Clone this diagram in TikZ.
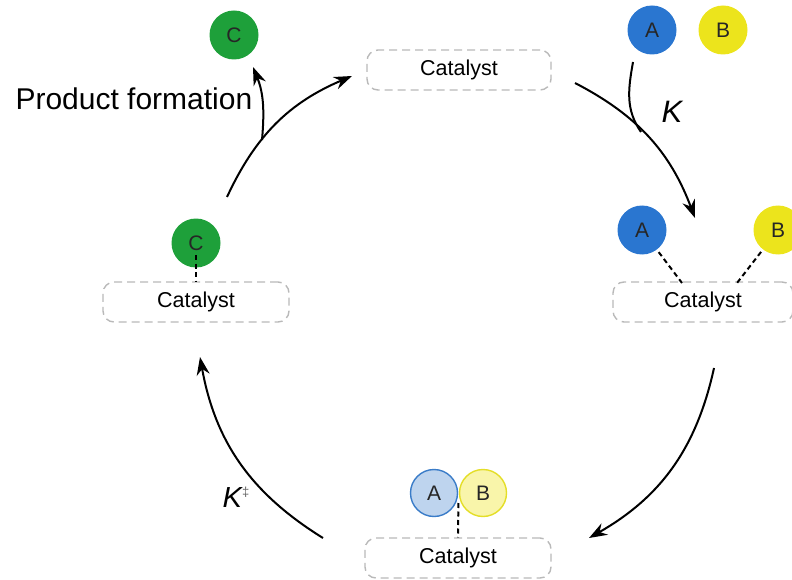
\documentclass[tikz,border=0pt]{standalone}
\usepackage{fontspec}
\setmainfont{Liberation Sans}
\usetikzlibrary{arrows.meta,calc}
\definecolor{molblue}{RGB}{42,118,208}
\definecolor{molyellow}{RGB}{236,228,28}
\definecolor{molgreen}{RGB}{30,160,58}
\definecolor{paleblue}{RGB}{190,212,238}
\definecolor{paleyellow}{RGB}{249,245,170}
\definecolor{edgeblue}{RGB}{58,124,200}
\definecolor{edgeyellow}{RGB}{228,222,40}
\tikzset{
  CatBox/.style = {draw=gray!55, dash pattern=on 8pt off 5pt, line width=1.4pt, rounded corners=11pt,
    minimum width=184pt, minimum height=40pt, inner sep=0pt, font=\fontsize{21.5}{21.5}\selectfont},
  Mol/.style = {circle, minimum size=49pt, inner sep=0pt, text=black!85, font=\fontsize{21}{21}\selectfont},
  MolA/.style = {Mol, fill=molblue},
  MolB/.style = {Mol, fill=molyellow},
  MolC/.style = {Mol, fill=molgreen},
  BoundA/.style = {Mol, fill=paleblue, draw=edgeblue, line width=1.4pt, minimum size=47pt},
  BoundB/.style = {Mol, fill=paleyellow, draw=edgeyellow, line width=1.4pt, minimum size=47pt},
  bond/.style = {line width=2pt, dash pattern=on 5pt off 3.5pt},
  cycarrow/.style = {-{Stealth[length=18pt,width=13pt]}, line width=2pt},
  rate/.style = {font=\fontsize{31}{31}\selectfont\itshape}
}
\begin{document}
\begin{tikzpicture}[x=1pt,y=1pt]
    \useasboundingbox (0,0) rectangle (792,-580);
    % catalyst states
    \node [CatBox] (tcat) at (459,-70) {Catalyst};
    \node [CatBox, minimum width=180pt] (rcat) at (703,-302) {Catalyst};
    \node [CatBox, minimum width=186pt] (bcat) at (458,-558) {Catalyst};
    \node [CatBox, minimum width=186pt] (lcat) at (196,-302) {Catalyst};
    % free reactants and product
    \node [MolA] (fA) at (652,-30) {A};
    \node [MolB] (fB) at (723,-30) {B};
    \node [MolC] (fC) at (234,-35) {C};
    % bound species
    \node [MolA] (rA) at (642,-230) {A};
    \node [MolB] (rB) at (778,-230) {B};
    \node [BoundA] (bA) at (434,-493) {A};
    \node [BoundB] (bB) at (483,-493) {B};
    \node [MolC] (lC) at (196,-243) {C};
    % bonds to catalyst
    \coordinate (rbondA) at (682,-283);
    \coordinate (rbondB) at (737,-283);
    \coordinate (abmid) at ($(bA)!0.5!(bB)$);
    \draw [bond, shorten <=3pt] (rA) -- (rbondA);
    \draw [bond, shorten <=3pt] (rB) -- (rbondB);
    \draw [bond, shorten <=10pt] (abmid) -- (bcat.north);
    \draw [bond, shorten <=12pt] (lC.center) -- (lcat.north);
    % catalytic cycle
    \coordinate (tlS) at (227,-197);  \coordinate (tlE) at (352,-76);
    \coordinate (trS) at (575,-83);   \coordinate (trE) at (695,-218);
    \coordinate (brS) at (714,-368);  \coordinate (brE) at (589,-538);
    \coordinate (blS) at (323,-538);  \coordinate (blE) at (200,-357);
    \draw [cycarrow] (tlS) to [bend left=21] (tlE);
    \draw [cycarrow] (trS) to [bend left=21] (trE);
    \draw [cycarrow] (brS) to [bend left=24] (brE);
    \draw [cycarrow] (blS) to [bend left=24] (blE);
    % side paths
    \coordinate (prodS) at (262,-140);
    \coordinate (prodE) at (253,-67);
    \coordinate (bindS) at (633,-62);
    \coordinate (bindE) at (641,-132);
    \draw [cycarrow] (prodS) to [out=85, in=-68] (prodE);
    \draw [line width=2pt] (bindS) to [out=-100, in=125] (bindE);
    % labels
    \node [anchor=west, font=\fontsize{30}{30}\selectfont] (prodlbl) at (12,-99) {Product formation};
    \node [rate] (klbl) at (672,-112) {K};
    \node [rate, font=\fontsize{29}{29}\selectfont\itshape] (kts) at (236,-497) {K\raisebox{11pt}{\fontsize{13}{13}\selectfont\upshape\color{black!60}‡}};
\end{tikzpicture}
\end{document}
